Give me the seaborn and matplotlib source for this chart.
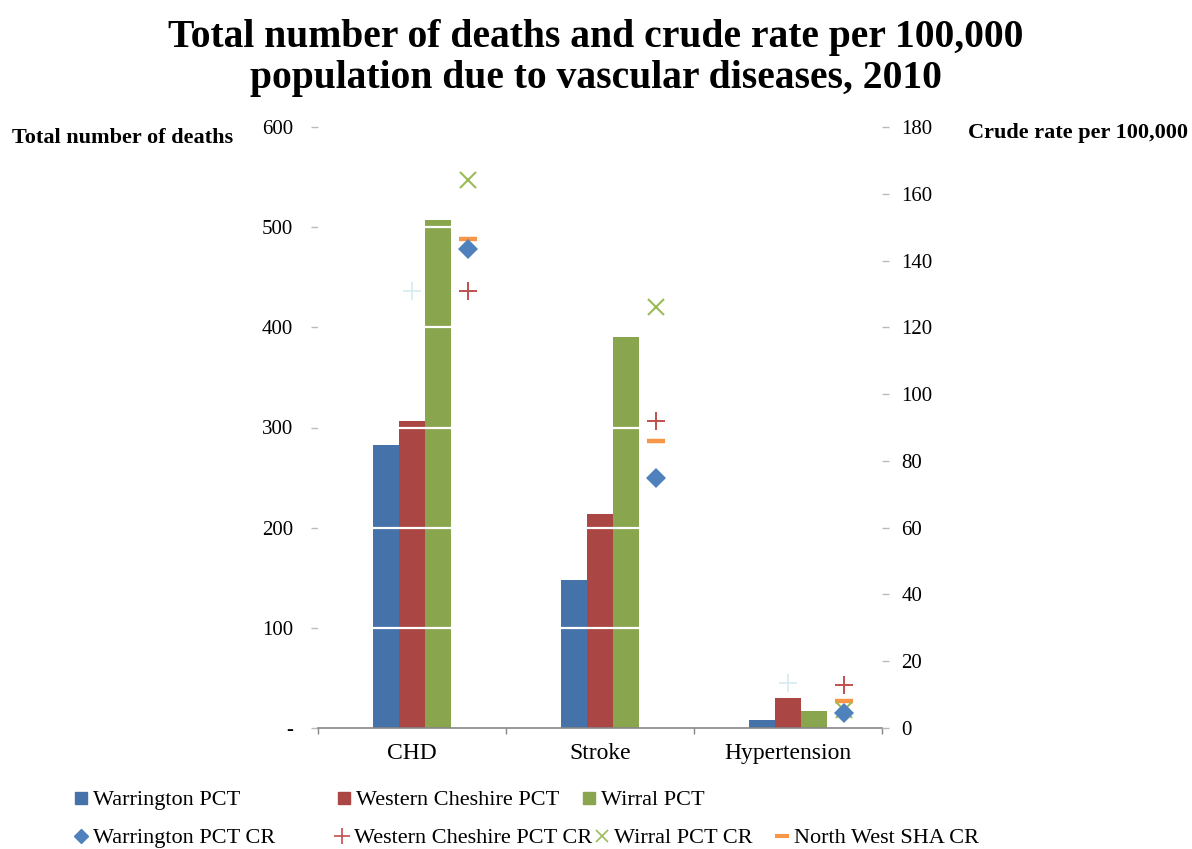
import numpy as np
import pandas as pd
import matplotlib
matplotlib.use("Agg")
import matplotlib.pyplot as plt
from matplotlib.lines import Line2D
from matplotlib.ticker import FuncFormatter, FixedLocator
import seaborn as sns

# ---------------- data ----------------
categories = ["CHD", "Stroke", "Hypertension"]
warrington_deaths = [283, 148, 8]
western_cheshire_deaths = [306, 214, 30]
wirral_deaths = [507, 390, 17]

warrington_cr = [143.5, 75, 4.5]
western_cheshire_cr = [131, 92, 13]
wirral_cr = [164, 126, 5.5]
north_west_cr = [146.5, 86, 8]
ghost_cr = [131, np.nan, 13.5]

bar_series = ["Warrington PCT", "Western Cheshire PCT", "Wirral PCT"]
left_ticks = [0, 100, 200, 300, 400, 500, 600]
right_ticks = [0, 20, 40, 60, 80, 100, 120, 140, 160, 180]

# ---------------- style ----------------
sns.set_theme(style="white")
plt.rcParams["font.family"] = ["Liberation Serif", "DejaVu Serif"]
plt.rcParams["text.color"] = "black"
plt.rcParams["axes.labelcolor"] = "black"
plt.rcParams["xtick.color"] = "black"
plt.rcParams["ytick.color"] = "black"

bar_colors = ["#4672AA", "#AA4643", "#89A54E"]
c_diamond = "#4F81BD"
c_plus = "#C0504D"
c_x = "#9BBB59"
c_dash = "#F79646"
c_ghost = "#D5EBF0"
grey = "#868686"

df = pd.DataFrame({
    "category": categories * 3,
    "series": [s for s in bar_series for _ in categories],
    "deaths": warrington_deaths + western_cheshire_deaths + wirral_deaths,
})

fig = plt.figure(figsize=(11.92, 8.49), dpi=100)
ax = fig.add_axes([318 / 1192, 1 - 728 / 849, (882 - 318) / 1192, (728 - 127) / 849])

sns.barplot(data=df, x="category", y="deaths", hue="series", hue_order=bar_series,
            order=categories, palette=bar_colors, width=0.415, gap=0,
            linewidth=0, saturation=1, legend=False, ax=ax, zorder=2)

ax.set_xlim(-0.5, 2.5)
ax.set_ylim(0, 600)
ax.set_yticks(left_ticks)
ax.yaxis.set_major_formatter(FuncFormatter(lambda v, p: "-" if v == 0 else f"{int(v)}"))
ax.hlines([t for t in left_ticks if 0 < t < 600], -0.5, 2.5, colors="white", lw=1.6, zorder=3)
ax.set_xlabel("")
ax.set_ylabel("")
for s in ["left", "right", "top"]:
    ax.spines[s].set_visible(False)
ax.spines["bottom"].set_color(grey)
ax.spines["bottom"].set_linewidth(1.2)
ax.tick_params(axis="y", which="major", length=5, width=1, color="#BBBBBB",
               pad=13, labelsize=15, labelcolor="black", left=True)
ax.tick_params(axis="x", which="major", length=0, pad=11, labelsize=17, labelcolor="black")
ax.xaxis.set_minor_locator(FixedLocator([-0.5, 0.5, 1.5, 2.5]))
ax.tick_params(axis="x", which="minor", length=4, width=1, color=grey, bottom=True)
ax.grid(False)

ax2 = ax.twinx()
ax2.set_position(ax.get_position())
ax2.set_ylim(0, 180)
ax2.set_yticks(right_ticks)
for s in ["left", "right", "top", "bottom"]:
    ax2.spines[s].set_visible(False)
ax2.tick_params(axis="y", length=5, width=1, color="#BBBBBB", pad=9, labelsize=15,
                labelcolor="black", right=True)
ax2.grid(False)

xi = np.arange(len(categories))
off = 0.30
ax2.plot(xi, ghost_cr, ls="none", marker="+", ms=13, mew=1.2, color=c_ghost, zorder=4)
ax2.plot(xi + off, north_west_cr, ls="none", marker="_", ms=13, mew=3.2, color=c_dash, zorder=5)
ax2.plot(xi + off, wirral_cr, ls="none", marker="x", ms=11, mew=1.5, color=c_x, zorder=5)
ax2.plot(xi + off, warrington_cr, ls="none", marker="D", ms=10, mew=0, color=c_diamond, zorder=6)
ax2.plot(xi + off, western_cheshire_cr, ls="none", marker="+", ms=13, mew=1.4, color=c_plus, zorder=6)

# ---------------- texts ----------------
fig.text(0.5, 1 - 58 / 849, "Total number of deaths and crude rate per 100,000\npopulation due to vascular diseases, 2010",
         ha="center", va="center", fontsize=28.5, fontweight="bold", linespacing=1.15,
         color="black")
fig.text(12 / 1192, 1 - 138 / 849, "Total number of deaths", ha="left", va="center",
         fontsize=16, fontweight="bold", color="black")
fig.text(968 / 1192, 1 - 133 / 849, "Crude rate per 100,000", ha="left", va="center",
         fontsize=16, fontweight="bold", color="black")

# ---------------- legend ----------------
entries = [
    (Line2D([], [], ls="none", marker="s", ms=8, color=bar_colors[0]), "Warrington PCT", 72, 800),
    (Line2D([], [], ls="none", marker="s", ms=8, color=bar_colors[1]), "Western Cheshire PCT", 335, 800),
    (Line2D([], [], ls="none", marker="s", ms=8, color=bar_colors[2]), "Wirral PCT", 580, 800),
    (Line2D([], [], ls="none", marker="D", ms=7, color=c_diamond), "Warrington PCT CR", 72, 838),
    (Line2D([], [], ls="none", marker="+", ms=11, mew=1.2, color=c_plus), "Western Cheshire PCT CR", 333, 838),
    (Line2D([], [], ls="none", marker="x", ms=9, mew=1.2, color=c_x), "Wirral PCT CR", 593, 838),
    (Line2D([], [], ls="none", marker="_", ms=10, mew=3, color=c_dash), "North West SHA CR", 773, 838),
]
for h, lab, x, y in entries:
    leg = fig.legend(handles=[h], labels=[lab], loc="center left",
                     bbox_to_anchor=(x / 1192, 1 - y / 849), frameon=False,
                     handlelength=0.8, handletextpad=0.15, borderpad=0, borderaxespad=0,
                     prop={"family": "Liberation Serif", "size": 16})
    for t in leg.get_texts():
        t.set_color("black")

fig.savefig("out.png", dpi=100)
